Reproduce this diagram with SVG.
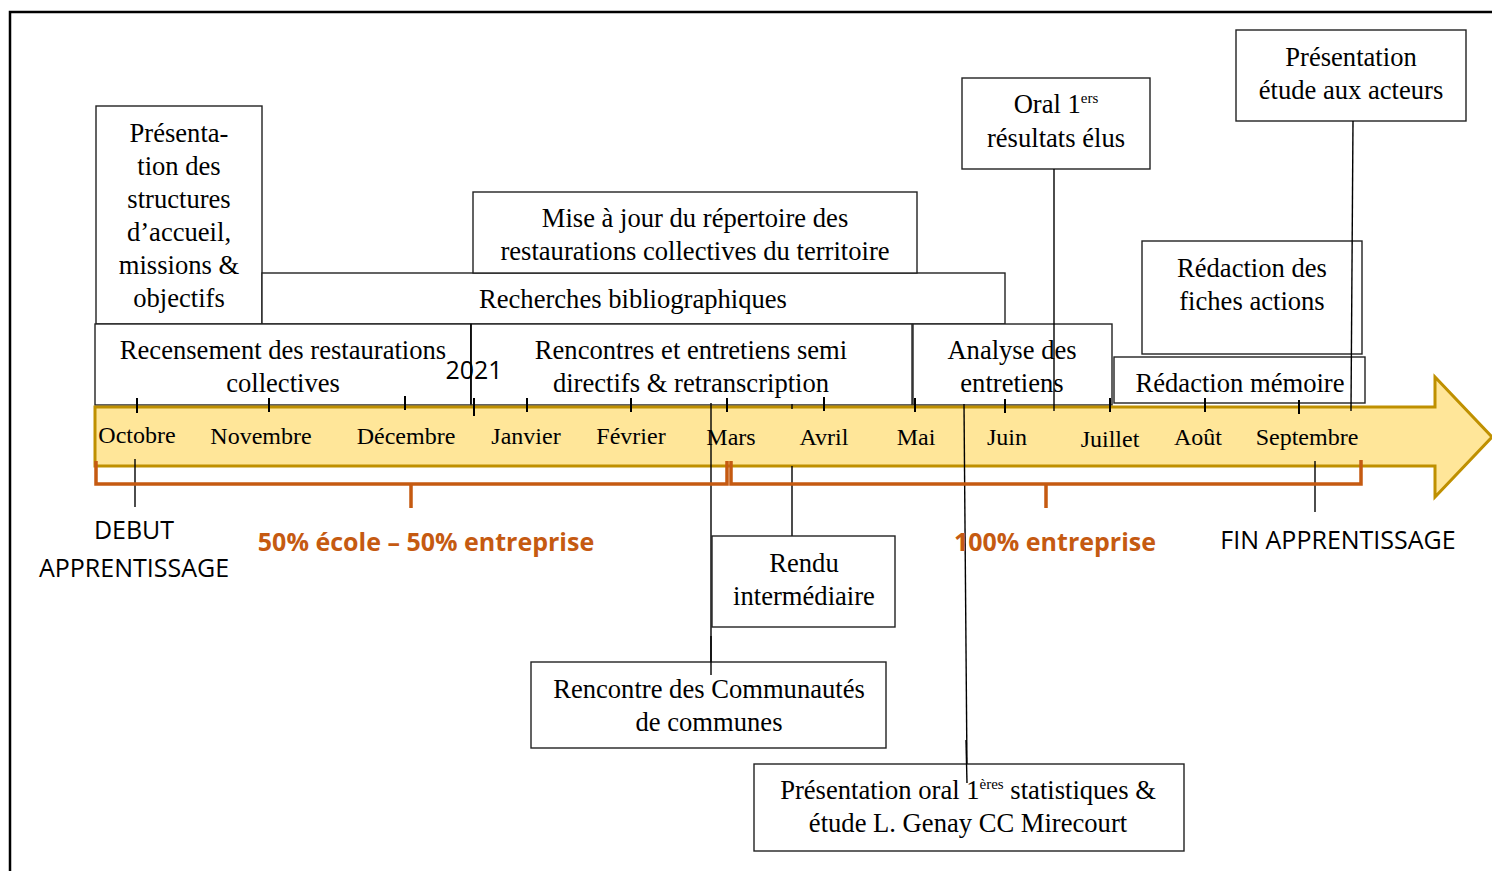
<svg xmlns="http://www.w3.org/2000/svg" width="1492" height="871" viewBox="0 0 1492 871">
<style>
.box{fill:#fff;stroke:#222;stroke-width:1.4}
.t{font-family:"Liberation Serif","Times New Roman",serif;font-size:26.6px;fill:#000;text-anchor:middle}
.m{font-family:"Liberation Serif","Times New Roman",serif;font-size:24px;fill:#000;text-anchor:middle}
.s{font-family:"Open Sans","Noto Sans",sans-serif;font-size:25px;fill:#000;text-anchor:middle}
.o{font-family:"Open Sans","Noto Sans",sans-serif;font-size:25px;font-weight:bold;fill:#C55A11;text-anchor:middle}
.ln{stroke:#000;stroke-width:1.4;fill:none}
.tick{stroke:#000;stroke-width:2;fill:none}
.br{stroke:#C55A11;stroke-width:3.5;fill:none}
</style>
<rect x="10" y="12" width="1520" height="900" fill="#fff" stroke="#000" stroke-width="2.5"/>

<g id="presentation-structures">
<rect class="box" x="96" y="106" width="166" height="218"/>
<text class="t" x="179" y="142">Présenta-</text>
<text class="t" x="179" y="175">tion des</text>
<text class="t" x="179" y="208">structures</text>
<text class="t" x="179" y="241">d’accueil,</text>
<text class="t" x="179" y="274">missions &amp;</text>
<text class="t" x="179" y="307">objectifs</text>
</g>
<g id="recherches">
<rect class="box" x="262" y="273" width="743" height="51"/>
<text class="t" x="633" y="308">Recherches bibliographiques</text>
</g>
<g id="mise-a-jour">
<rect class="box" x="473" y="192" width="444" height="81"/>
<text class="t" x="695" y="227">Mise à jour du répertoire des</text>
<text class="t" x="695" y="260">restaurations collectives du territoire</text>
</g>
<g id="recensement">
<rect class="box" x="95" y="324" width="376" height="81"/>
<text class="t" x="283" y="359">Recensement des restaurations</text>
<text class="t" x="283" y="392">collectives</text>
</g>
<g id="rencontres">
<rect class="box" x="471" y="324" width="441" height="81"/>
<text class="t" x="691" y="359">Rencontres et entretiens semi</text>
<text class="t" x="691" y="392">directifs &amp; retranscription</text>
</g>
<g id="analyse">
<rect class="box" x="913" y="324" width="199" height="81"/>
<text class="t" x="1012" y="359">Analyse des</text>
<text class="t" x="1012" y="392">entretiens</text>
</g>
<g id="redaction-fiches">
<rect class="box" x="1142" y="241" width="220" height="113"/>
<text class="t" x="1252" y="277">Rédaction des</text>
<text class="t" x="1252" y="310">fiches actions</text>
</g>
<g id="redaction-memoire">
<rect class="box" x="1114" y="357" width="251" height="46"/>
<text class="t" x="1240" y="392">Rédaction mémoire</text>
</g>
<g id="oral-elus">
<rect class="box" x="962" y="78" width="188" height="91"/>
<text class="t" x="1056" y="113">Oral 1<tspan font-size="15" dy="-10">ers</tspan></text>
<text class="t" x="1056" y="147">résultats élus</text>
</g>
<g id="presentation-acteurs">
<rect class="box" x="1236" y="30" width="230" height="91"/>
<text class="t" x="1351" y="66">Présentation</text>
<text class="t" x="1351" y="99">étude aux acteurs</text>
</g>
<g id="year-2021">
<text class="s" x="474" y="379">2021</text>
</g>

<g id="timeline-arrow">
<path d="M95 407 H1435 V377 L1492 437 L1435 497 V466 H95 Z" fill="#FFE699" stroke="#BF9000" stroke-width="3"/>
</g>

<g id="connectors">
<path class="ln" d="M792 404 V409 M792 466 V536"/>
<path class="ln" d="M711 403 V675"/>
<path class="ln" d="M964 404 L967 770"/>
<path class="ln" d="M1054 169 V411"/>
<path class="ln" d="M1353 121 L1351 411"/>
<path class="ln" d="M471 324 V404"/>
<path class="ln" d="M135 459 V507"/>
<path class="ln" d="M1315 461 V512"/>
</g>

<g id="ticks">
<path class="tick" d="M137 398 V413 M269 398 V412 M405 396 V410 M474 398 V416 M527 398 V412 M631 398 V412 M727 398 V412 M824 397 V411 M915 398 V412 M1005 399 V413 M1110 398 V412 M1205 398 V412 M1299 400 V414"/>
</g>

<g id="months">
<text class="m" x="137" y="443">Octobre</text>
<text class="m" x="261" y="444">Novembre</text>
<text class="m" x="406" y="444">Décembre</text>
<text class="m" x="526" y="444">Janvier</text>
<text class="m" x="631" y="444">Février</text>
<text class="m" x="731" y="445">Mars</text>
<text class="m" x="824" y="445">Avril</text>
<text class="m" x="916" y="445">Mai</text>
<text class="m" x="1007" y="445">Juin</text>
<text class="m" x="1110" y="447">Juillet</text>
<text class="m" x="1198" y="445">Août</text>
<text class="m" x="1307" y="445">Septembre</text>
</g>

<g id="brackets">
<path class="br" d="M96 461 V484 H727 V461 M411 484 V508"/>
<path class="br" d="M731 461 V484 H1361 V460 M1046 484 V508"/>
</g>

<g id="debut">
<text class="s" x="134" y="539">DEBUT</text>
<text class="s" x="134" y="577">APPRENTISSAGE</text>
</g>
<g id="fin">
<text class="s" x="1338" y="549">FIN APPRENTISSAGE</text>
</g>
<g id="phase-1">
<text class="o" x="426" y="551">50% école – 50% entreprise</text>
</g>
<g id="phase-2">
<text class="o" x="1055" y="551">100% entreprise</text>
</g>

<g id="rendu">
<rect class="box" x="712" y="536" width="183" height="91"/>
<text class="t" x="804" y="572">Rendu</text>
<text class="t" x="804" y="605">intermédiaire</text>
</g>
<g id="rencontre-cc">
<rect class="box" x="531" y="662" width="355" height="86"/>
<text class="t" x="709" y="698">Rencontre des Communautés</text>
<text class="t" x="709" y="731">de communes</text>
</g>
<g id="presentation-oral">
<rect class="box" x="754" y="764" width="430" height="87"/>
<text class="t" x="968" y="799">Présentation oral 1<tspan font-size="15" dy="-10">ères</tspan><tspan dy="10"> statistiques &amp;</tspan></text>
<text class="t" x="968" y="832">étude L. Genay CC Mirecourt</text>
</g>
<g id="connectors-over-boxes">
<path class="ln" d="M711 636 V675"/>
<path class="ln" d="M966 740 L967 783"/>
</g>
</svg>
